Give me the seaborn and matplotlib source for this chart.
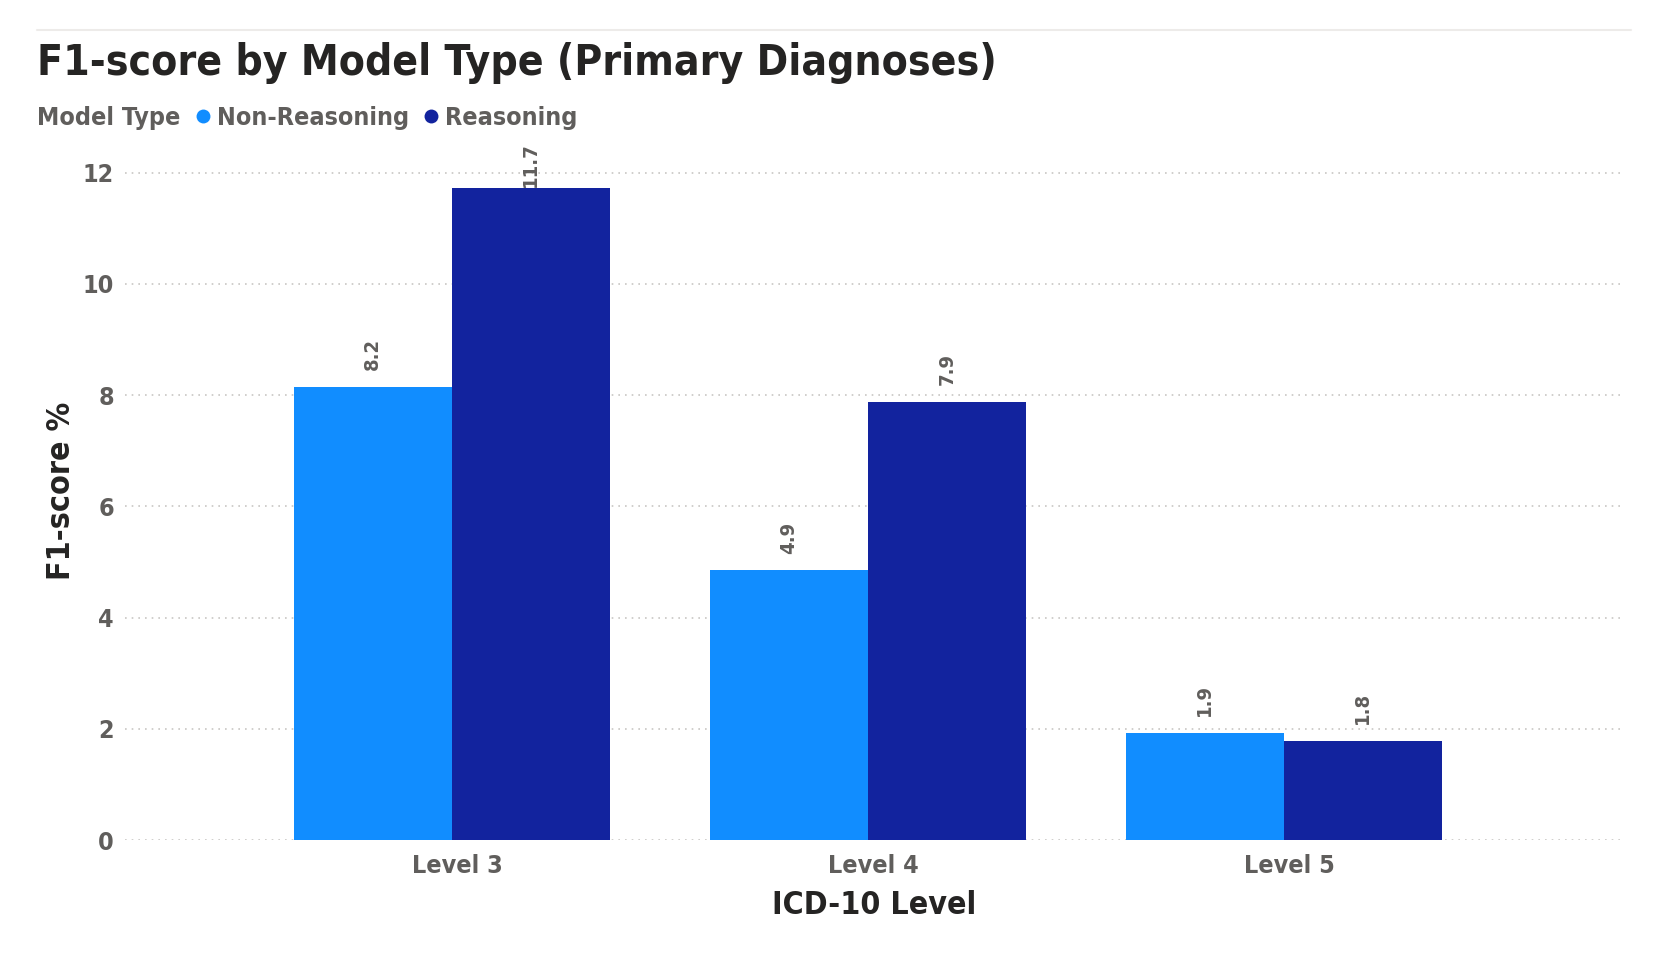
import pandas as pd
import seaborn as sns
import matplotlib.pyplot as plt
from matplotlib.lines import Line2D
from matplotlib.transforms import ScaledTranslation

# chart data
levels = ['Level 3', 'Level 4', 'Level 5']
model_types = ['Non-Reasoning', 'Reasoning']
non_reasoning = [8.15, 4.85, 1.93]
reasoning = [11.72, 7.88, 1.78]
label_values = [['8.2', '4.9', '1.9'], ['11.7', '7.9', '1.8']]

colors = ['#118DFF', '#12239E']
text_gray = '#605E5C'
text_dark = '#252423'

df = pd.DataFrame({
    'level': levels * 2,
    'model': [model_types[0]] * 3 + [model_types[1]] * 3,
    'f1': non_reasoning + reasoning,
})

sns.set_theme(style='white')
plt.rcParams['font.family'] = ['DejaVu Sans']
plt.rcParams['font.stretch'] = 'condensed'

fig = plt.figure(figsize=(16.61, 9.61), dpi=100)
ax = fig.add_axes([0.0753, 0.1259, 0.9018, 0.7263])

sns.barplot(data=df, x='level', y='f1', hue='model', palette=colors,
            width=0.76, saturation=1, linewidth=0, ax=ax, legend=False)

ymax = 12.55
ax.set_ylim(0, ymax)
ax.set_xlim(-0.785, 2.815)
ax.set_yticks([0, 2, 4, 6, 8, 10, 12])

# dotted gridlines
for t in [0, 2, 4, 6, 8, 10, 12]:
    ax.axhline(t, color='#C8C6C4', linestyle=(0, (1, 3)), linewidth=1.2, zorder=0)

for s in ax.spines.values():
    s.set_visible(False)
ax.tick_params(axis='both', length=0, colors=text_gray)
ax.tick_params(axis='y', pad=8, labelsize=18)
ax.tick_params(axis='x', pad=10, labelsize=18)
for lab in ax.get_xticklabels() + ax.get_yticklabels():
    lab.set_fontweight('bold')
# category labels sit a little right of the group centre
shift = ScaledTranslation(0.06, 0, fig.dpi_scale_trans)
for lab in ax.get_xticklabels():
    lab.set_transform(lab.get_transform() + shift)

ax.set_ylabel('F1-score %', fontsize=23, fontweight='bold', color=text_dark)
ax.yaxis.set_label_coords(-0.032, 0.5)
ax.set_xlabel('ICD-10 Level', fontsize=23, fontweight='bold', color=text_dark)
ax.xaxis.set_label_coords(0.5, -0.072)

# data labels above bars, kept inside the plot area
label_h = 0.8
for cont, labs in zip(ax.containers, label_values):
    for bar, txt in zip(cont, labs):
        h = bar.get_height()
        y = min(h + 0.3, ymax - label_h)
        ax.text(bar.get_x() + bar.get_width() / 2, y, txt, rotation=90,
                ha='center', va='bottom', fontsize=14.5, fontweight='bold',
                color=text_gray, clip_on=False)

# title, separator line and legend
fig.text(0.0223, 0.934, 'F1-score by Model Type (Primary Diagnoses)',
         fontsize=30.5, fontweight='bold', color=text_dark, va='center', ha='left')
fig.add_artist(Line2D([0.0223, 0.982], [0.969, 0.969], color='#EDEBE9',
                      linewidth=1.5, transform=fig.transFigure))
lt = fig.text(0.0223, 0.8772, 'Model Type', fontsize=18, fontweight='bold',
              color=text_gray, va='center', ha='left')
fig.canvas.draw()
lt_right = lt.get_window_extent().x1 / fig.bbox.width
handles = [Line2D([], [], marker='o', linestyle='', markersize=10,
                  markerfacecolor=c, markeredgewidth=0) for c in colors]
leg = fig.legend(handles, model_types, loc='center left',
                 bbox_to_anchor=(lt_right + 0.009, 0.8772), ncol=2, frameon=False,
                 handlelength=0.6, handletextpad=0.25, columnspacing=0.6,
                 borderpad=0, borderaxespad=0,
                 prop={'size': 18, 'weight': 'bold'})
for t in leg.get_texts():
    t.set_color(text_gray)

fig.savefig('out.png', dpi=100, facecolor='white')
